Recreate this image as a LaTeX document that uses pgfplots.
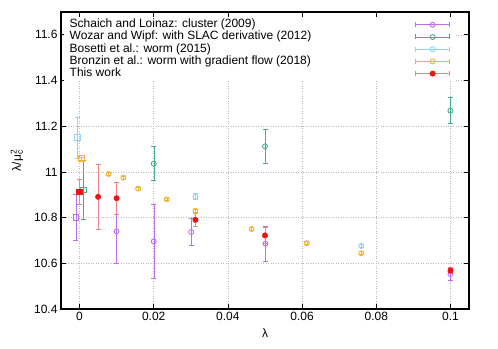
\documentclass[border=0pt]{standalone}
\usepackage{fontspec}
\setmainfont{Liberation Sans}
\usepackage{pgfplots}
\pgfplotsset{compat=1.18}

\definecolor{cpurple}{RGB}{190,110,235}
\definecolor{cgreen}{RGB}{70,175,135}
\definecolor{cblue}{RGB}{150,208,245}
\definecolor{corange}{RGB}{240,180,50}
\definecolor{credlight}{RGB}{245,130,130}
\definecolor{cred}{RGB}{238,20,20}

\begin{document}
\begin{tikzpicture}[font=\fontsize{12bp}{14.4bp}\selectfont]
\begin{axis}[
    scale only axis,
    width=408bp, height=297bp,
    xmin=-0.005, xmax=0.105,
    ymin=10.4, ymax=11.7,
    xtick={0,0.02,0.04,0.06,0.08,0.1},
    xticklabels={0,0.02,0.04,0.06,0.08,0.1},
    ytick={10.4,10.6,10.8,11,11.2,11.4,11.6},
    yticklabels={10.4,10.6,10.8,11,11.2,11.4,11.6},
    tick align=inside,
    major tick length=5bp,
    tick style={black, line width=0.8bp},
    axis line style={black, line width=1.3bp},
    grid=major,
    grid style={gray!55, line width=0.6bp, dash pattern=on 1bp off 1.5bp},
    xlabel={λ},
    ylabel={λ/μ\rlap{\textsubscript{c}}\textsuperscript{2}},
    xlabel style={yshift=-1bp},
    ylabel style={yshift=4bp},
    legend plot pos=right,
    legend cell align=left,
    legend style={at={(axis description cs:0,1)}, anchor=north west,
        xshift=3bp, yshift=-5bp, draw=none, fill=white,
        inner xsep=5bp, inner ysep=1.5bp, row sep=0bp, column sep=0bp,
        nodes={inner sep=0.5bp, text height=8.6bp, text depth=2.6bp}},
    legend image code/.code={
        \draw[#1, mark=none] (0bp,0bp) -- (34bp,0bp);
        \draw[#1, mark=none] (0bp,-2.5bp) -- (0bp,2.5bp) (34bp,-2.5bp) -- (34bp,2.5bp);
        \draw[#1, only marks] plot coordinates {(17bp,0bp)};
    },
    error bars/y dir=both,
    error bars/y explicit,
    error bars/error mark options={rotate=90, mark size=2.5bp, line width=0.9bp},
    every axis plot/.append style={only marks, line width=0.9bp, mark size=2.5bp},
]
% Schaich and Loinaz
\addplot[color=cpurple, mark=o] coordinates {
    (0.01,10.74) +- (0,0.14)
    (0.02,10.696) +- (0,0.163)
    (0.0301,10.737) +- (0,0.06)
    (0.0501,10.686) +- (0,0.076)
    (0.1,10.553) +- (0,0.026)
};
\addlegendentry{\makebox[345bp][l]{Schaich and Loinaz: cluster (2009)}}
\addplot[color=cpurple, mark=square, mark size=2.8bp, forget plot] coordinates {
    (-0.001,10.80) +- (0,0.10)
};
% Wozar and Wipf
\addplot[color=cgreen, mark=o] coordinates {
    (0.02,11.036) +- (0,0.075)
    (0.05,11.112) +- (0,0.074)
    (0.1,11.268) +- (0,0.058)
};
\addlegendentry{\makebox[345bp][l]{Wozar and Wipf: with SLAC derivative (2012)}}
\addplot[color=cgreen, mark=square, mark size=2.8bp, forget plot] coordinates {
    (0.001,10.921) +- (0,0.13)
};
% Bosetti et al.
\addplot[color=cblue, mark=o] coordinates {
    (0.03125,10.891) +- (0,0.013)
    (0.0759,10.676) +- (0,0.008)
};
\addlegendentry{\makebox[345bp][l]{Bosetti et al.: worm (2015)}}
\addplot[color=cblue, mark=square, mark size=2.8bp, forget plot] coordinates {
    (-0.0005,11.15) +- (0,0.09)
};
% Bronzin et al.
\addplot[color=corange, mark=o] coordinates {
    (0.0078,10.991) +- (0,0.006)
    (0.0118,10.975) +- (0,0.006)
    (0.0158,10.927) +- (0,0.006)
    (0.0235,10.88) +- (0,0.006)
    (0.03125,10.83) +- (0,0.006)
    (0.0464,10.75) +- (0,0.006)
    (0.0613,10.688) +- (0,0.006)
    (0.0759,10.644) +- (0,0.006)
};
\addlegendentry{\makebox[345bp][l]{Bronzin et al.: worm with gradient flow (2018)}}
\addplot[color=corange, mark=square, mark size=2.8bp, forget plot] coordinates {
    (0.0005,11.058) +- (0,0.006)
};
% This work
\addplot[color=credlight, mark=*, mark options={draw=cred, fill=cred}] coordinates {
    (0.005,10.891) +- (0,0.142)
    (0.01,10.885) +- (0,0.07)
    (0.03125,10.79) +- (0,0.03)
    (0.05,10.722) +- (0,0.033)
    (0.1,10.568) +- (0,0.012)
};
\addlegendentry{\makebox[345bp][l]{This work}}
\addplot[color=credlight, mark=square*, mark size=2.8bp, mark options={draw=cred, fill=cred}, forget plot] coordinates {
    (0,10.913) +- (0,0.056)
};
\end{axis}
\path (current axis.south west) ++(-61bp,-40bp) coordinate (bbsw);
\path (current axis.north east) ++(29bp,12bp) coordinate (bbne);
\path (bbsw) rectangle (bbne);
\end{tikzpicture}
\end{document}
